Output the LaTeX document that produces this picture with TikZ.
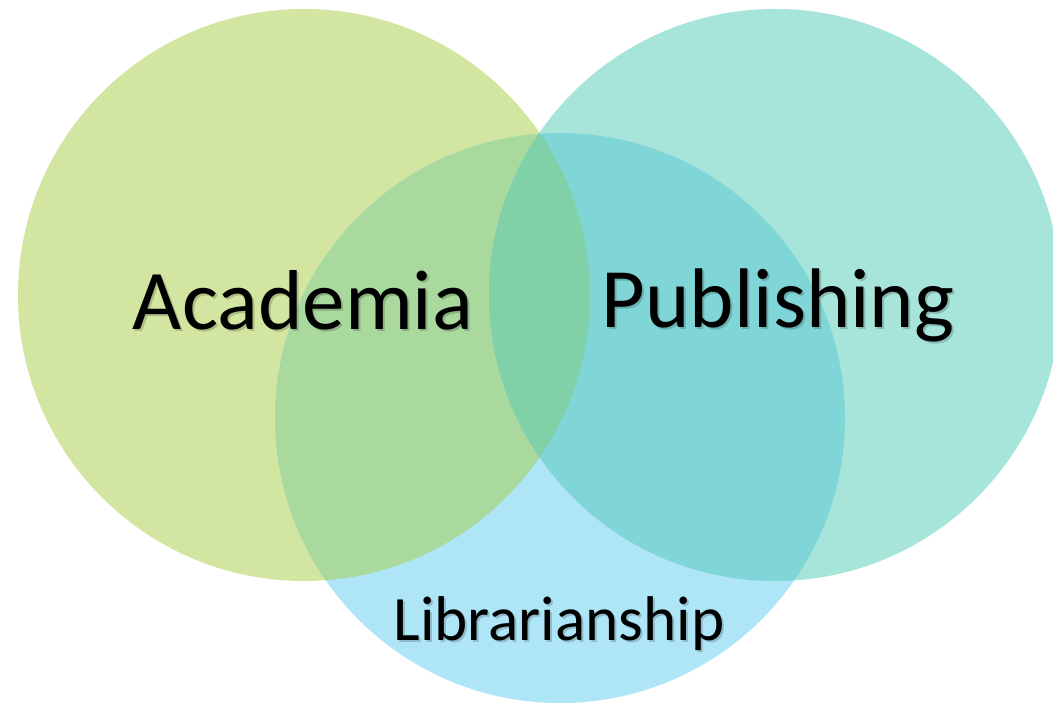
\documentclass[tikz,border=0pt]{standalone}
\usepackage{fontspec}
\setmainfont{Carlito}
\begin{document}
\begin{tikzpicture}[x=0.5pt,y=-0.5pt,
  lbl/.style={inner sep=0pt, anchor=base, text=black},
  shd/.style={inner sep=0pt, anchor=base, text=black, opacity=0.18}]
\useasboundingbox (0,0) rectangle (1053,704);
\fill[white] (0,0) rectangle (1053,704);
\definecolor{cL}{HTML}{D3E6A1}
\definecolor{cR}{HTML}{A7E4D9}
\definecolor{cB}{HTML}{AEE5F7}
\definecolor{cLB}{HTML}{AAD99E}
\definecolor{cRB}{HTML}{80D6D6}
\definecolor{cLR}{HTML}{80D0A8}
\def\Lc{(304,295) circle[radius=286]}
\def\Rc{(775,295) circle[radius=286]}
\def\Bc{(560,418) circle[radius=285]}
\fill[cL] \Lc;
\fill[cR] \Rc;
\fill[cB] \Bc;
\begin{scope}\clip \Lc; \fill[cLB] \Bc; \end{scope}
\begin{scope}\clip \Rc; \fill[cRB] \Bc; \end{scope}
\begin{scope}\clip \Lc; \fill[cLR] \Rc; \end{scope}
% labels with soft shadow
\node[shd, font=\fontsize{42.5}{50}\selectfont] (as) at (305,332) {Academia};
\node[lbl, font=\fontsize{42.5}{50}\selectfont] (a) at (303,330) {Academia};
\node[shd, font=\fontsize{42.3}{50}\selectfont] (ps) at (780,330) {Publishing};
\node[lbl, font=\fontsize{42.3}{50}\selectfont] (p) at (778,328) {Publishing};
\node[shd, font=\fontsize{31.6}{40}\selectfont] (ls) at (561,642) {Librarianship};
\node[lbl, font=\fontsize{31.6}{40}\selectfont] (l) at (559,640) {Librarianship};
\end{tikzpicture}
\end{document}
